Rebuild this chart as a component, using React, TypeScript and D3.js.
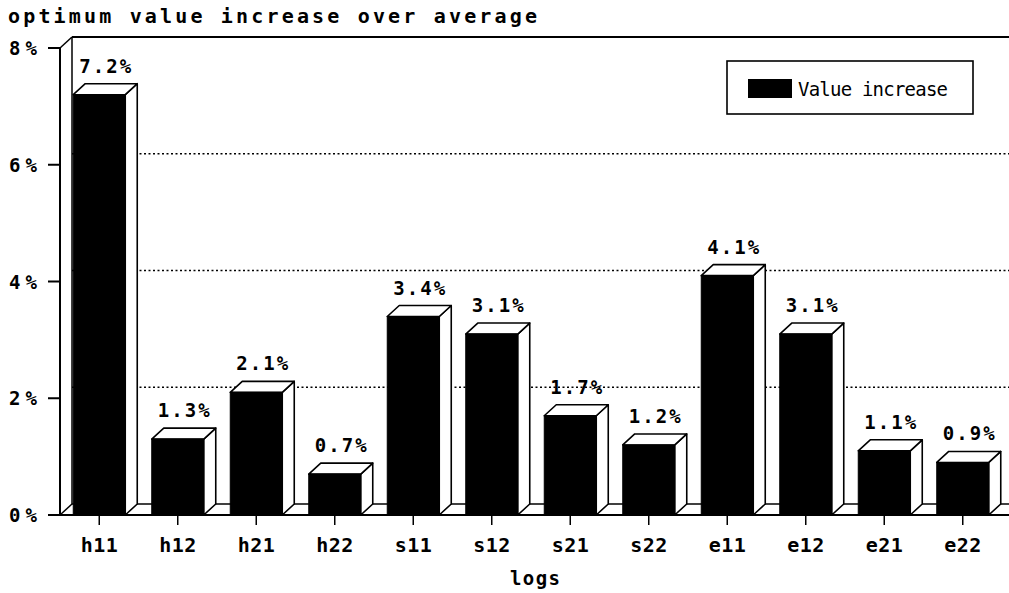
import React from 'react';
import * as d3 from 'd3';

// Chart content
const chartTitle = 'optimum value increase over average';
const xAxisTitle = 'logs';
const seriesName = 'Value increase';
const categories = ['h11', 'h12', 'h21', 'h22', 's11', 's12', 's21', 's22', 'e11', 'e12', 'e21', 'e22'];
const valueIncrease = [7.2, 1.3, 2.1, 0.7, 3.4, 3.1, 1.7, 1.2, 4.1, 3.1, 1.1, 0.9];
const yTickValues = [0, 2, 4, 6, 8];
const gridValues = [2, 4, 6];

// Layout
const W = 1009;
const H = 593;
const plotLeft = 60;
const plotRight = 1002;
const baseY = 515;
const topY = 48;
const depthX = 12;
const depthY = -11;
const barW = 52;
const FONT = "'DejaVu Sans Mono', 'Liberation Mono', monospace";

export default function App() {
  const x = d3.scaleBand<string>().domain(categories).range([plotLeft, plotRight]).padding(0);
  const y = d3.scaleLinear().domain([0, 8]).range([baseY, topY]);
  const fmt = (v: number) => `${v.toFixed(1)}%`;

  const backLeft = plotLeft + depthX;
  const backTop = y(8) + depthY;
  const backBase = baseY + depthY;

  return (
    <svg
      width={W}
      height={H}
      viewBox={`0 0 ${W} ${H}`}
      style={{ position: 'absolute', left: 0, top: 0, background: '#fff' }}
    >
      <rect x={0} y={0} width={W} height={H} fill="#fff" />

      {/* title */}
      <text
        x={8}
        y={23}
        fontFamily={FONT}
        fontWeight="bold"
        fontSize={20}
        textLength={529}
        lengthAdjust="spacing"
      >
        {chartTitle}
      </text>

      {/* back wall gridlines */}
      {gridValues.map((v) => (
        <line
          key={`g${v}`}
          x1={backLeft}
          x2={W}
          y1={y(v) + depthY}
          y2={y(v) + depthY}
          stroke="#000"
          strokeWidth={1.6}
          strokeDasharray="2,2.5"
        />
      ))}

      {/* frame: walls and floor */}
      <line x1={backLeft} x2={W} y1={backTop} y2={backTop} stroke="#000" strokeWidth={2} />
      <line x1={backLeft} x2={backLeft} y1={backTop} y2={backBase} stroke="#000" strokeWidth={1.5} />
      <line x1={plotLeft} x2={backLeft} y1={y(8)} y2={backTop} stroke="#000" strokeWidth={1.5} />
      <line x1={plotLeft} x2={plotLeft} y1={y(8)} y2={baseY} stroke="#000" strokeWidth={2} />
      <line x1={plotLeft} x2={backLeft} y1={baseY} y2={backBase} stroke="#000" strokeWidth={1.5} />
      <line x1={backLeft} x2={W} y1={backBase} y2={backBase} stroke="#000" strokeWidth={1.5} />
      <line x1={48} x2={W} y1={baseY} y2={baseY} stroke="#000" strokeWidth={2} />

      {/* y axis ticks and labels */}
      {yTickValues.map((v) => (
        <g key={`t${v}`}>
          <line x1={48} x2={plotLeft} y1={y(v)} y2={y(v)} stroke="#000" strokeWidth={2} />
          <text
            x={37}
            y={y(v) + 7}
            textAnchor="end"
            fontFamily={FONT}
            fontWeight="bold"
            fontSize={19}
            textLength={28}
            lengthAdjust="spacing"
          >
            {`${v}%`}
          </text>
        </g>
      ))}

      {/* bars */}
      {categories.map((c, i) => {
        const v = valueIncrease[i];
        const cx = (x(c) as number) + x.bandwidth() / 2;
        const x0 = cx - barW / 2;
        const x1 = cx + barW / 2;
        const yt = y(v);
        const top = `M${x0},${yt} L${x0 + depthX},${yt + depthY} L${x1 + depthX},${yt + depthY} L${x1},${yt} Z`;
        const side = `M${x1},${yt} L${x1 + depthX},${yt + depthY} L${x1 + depthX},${baseY + depthY} L${x1},${baseY} Z`;
        return (
          <g key={c}>
            <path d={side} fill="#fff" stroke="#000" strokeWidth={1.6} strokeLinejoin="round" />
            <path d={top} fill="#fff" stroke="#000" strokeWidth={1.6} strokeLinejoin="round" />
            <rect x={x0} y={yt} width={barW} height={baseY - yt} fill="#000" stroke="#000" strokeWidth={1} />
            <text
              x={cx + depthX / 2}
              y={yt + depthY - 11}
              textAnchor="middle"
              fontFamily={FONT}
              fontWeight="bold"
              fontSize={19}
              textLength={52}
              lengthAdjust="spacing"
            >
              {fmt(v)}
            </text>
            <line x1={cx} x2={cx} y1={baseY} y2={baseY + 10} stroke="#000" strokeWidth={1.5} />
            <text
              x={cx}
              y={552}
              textAnchor="middle"
              fontFamily={FONT}
              fontWeight="bold"
              fontSize={20}
              textLength={37}
              lengthAdjust="spacing"
            >
              {c}
            </text>
          </g>
        );
      })}

      {/* x axis title */}
      <text
        x={535}
        y={585}
        textAnchor="middle"
        fontFamily={FONT}
        fontWeight="bold"
        fontSize={19}
        textLength={50}
        lengthAdjust="spacing"
      >
        {xAxisTitle}
      </text>

      {/* legend */}
      <g>
        <rect x={727} y={61} width={246} height={53} fill="#fff" stroke="#000" strokeWidth={1.6} />
        <rect x={748} y={79} width={44} height={19} fill="#000" />
        <text
          x={798}
          y={96}
          fontFamily={FONT}
          fontSize={19}
          textLength={150}
          lengthAdjust="spacing"
        >
          {seriesName}
        </text>
      </g>
    </svg>
  );
}
